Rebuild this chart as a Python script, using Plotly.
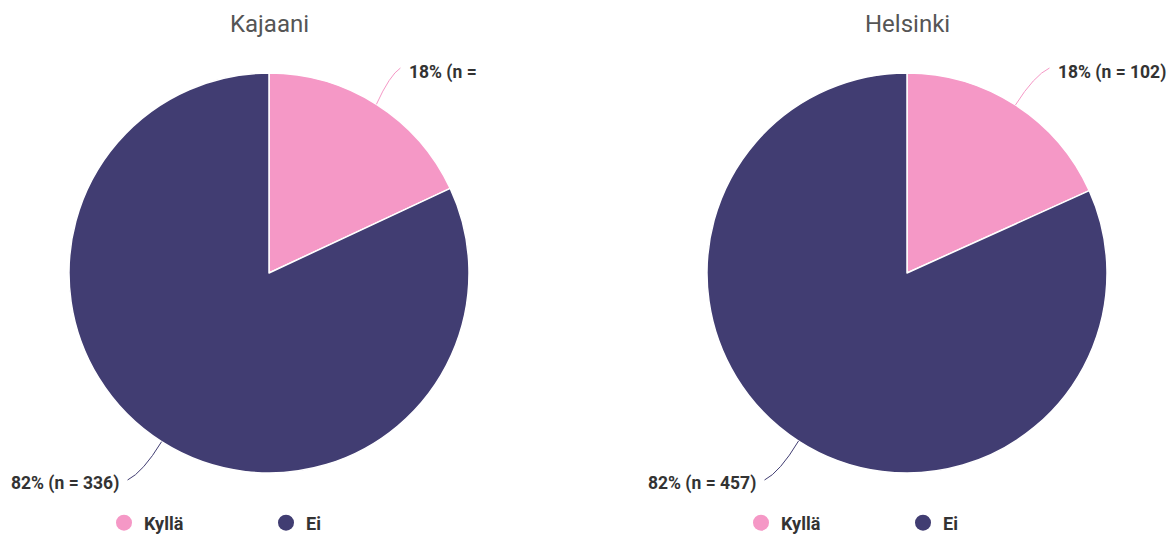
import math
import plotly.graph_objects as go

# page has an 8px body margin: draw in page pixels, then map to figure space
OFF = 8
W, H = 1176 - OFF, 538 - OFF

cities = ["Kajaani", "Helsinki"]
categories = ["Kyllä", "Ei"]
values_kajaani = [74, 336]
values_helsinki = [102, 457]
pink_labels = ["18% (n =", "18% (n = 102)"]
dark_labels = ["82% (n = 336)", "82% (n = 457)"]
colors = ["#F598C6", "#413D72"]

centers_px = [269, 907]
cy_px = 273
R = 200
# horizontal reach of the leader line end for each chart (layout only)
reach = [[24, 34], [34, 34]]

def px(x):
    return (x - OFF) / W

def py(y):
    return 1 - (y - OFF) / H

fig = go.Figure()
all_values = [values_kajaani, values_helsinki]
shapes = []
annotations = []
for i, (city, vals) in enumerate(zip(cities, all_values)):
    cx = centers_px[i]
    fig.add_trace(go.Pie(
        labels=categories, values=vals, sort=False, direction="clockwise",
        rotation=0, marker=dict(colors=colors, line=dict(color="white", width=1.5)),
        textinfo="none", hoverinfo="label+percent+value", showlegend=False,
        domain=dict(x=[px(cx - R), px(cx + R)], y=[py(cy_px + R), py(cy_px - R)]),
    ))
    annotations.append(dict(x=px(cx), y=py(OFF), xref="paper", yref="paper",
                            text=city, showarrow=False,
                            font=dict(size=24, color="#555555", family="Roboto"),
                            xanchor="center", yanchor="top"))
    total = sum(vals)
    start = 0.0
    labels = [pink_labels[i], dark_labels[i]]
    for j, v in enumerate(vals):
        frac = v / total
        mid = (start + frac / 2) * 2 * math.pi
        start += frac
        sx, sy = math.sin(mid), -math.cos(mid)
        side = 1 if sx >= 0 else -1
        vs = 1 if sy > 0 else -1
        p0 = (cx + R * sx, cy_px + R * sy)
        end_dy = 207 if vs > 0 else 205
        p2 = (p0[0] + reach[i][j] * side, cy_px + vs * end_dy)
        p1 = (p0[0] + 0.55 * (p2[0] - p0[0]), p0[1] + 0.8 * (p2[1] - p0[1]))
        path = "M {},{} Q {},{} {},{}".format(px(p0[0]), py(p0[1]), px(p1[0]), py(p1[1]), px(p2[0]), py(p2[1]))
        shapes.append(dict(type="path", path=path, xref="paper", yref="paper",
                           line=dict(color=colors[j], width=1)))
        annotations.append(dict(x=px(p2[0] + 7 * side), y=py(p2[1] + (3 if vs > 0 else 5)),
                                xref="paper", yref="paper", text=labels[j], showarrow=False,
                                xanchor="left" if side > 0 else "right", yanchor="middle",
                                font=dict(size=17.5, color="#333333", family="Roboto", weight="bold")))

# legend dummy traces
for i in range(2):
    for j, cat in enumerate(categories):
        fig.add_trace(go.Scatter(
            x=[None], y=[None], mode="markers", name=cat,
            marker=dict(color=colors[j], size=17, symbol="circle"),
            legend="legend" if i == 0 else "legend2", showlegend=True,
        ))

leg_common = dict(orientation="h", yanchor="middle", xanchor="left",
                  entrywidth=117, entrywidthmode="pixels",
                  font=dict(size=18, color="#333333", family="Roboto", weight="bold"),
                  bgcolor="rgba(0,0,0,0)", itemclick=False, itemdoubleclick=False)

fig.update_layout(
    width=W, height=H,
    margin=dict(l=0, r=0, t=0, b=0, autoexpand=False),
    paper_bgcolor="white", plot_bgcolor="white",
    xaxis=dict(visible=False), yaxis=dict(visible=False),
    shapes=shapes, annotations=annotations,
    legend=dict(x=px(124 - 20), y=py(523), **leg_common),
    legend2=dict(x=px(761 - 20), y=py(523), **leg_common),
)

fig.write_html("out.html")
